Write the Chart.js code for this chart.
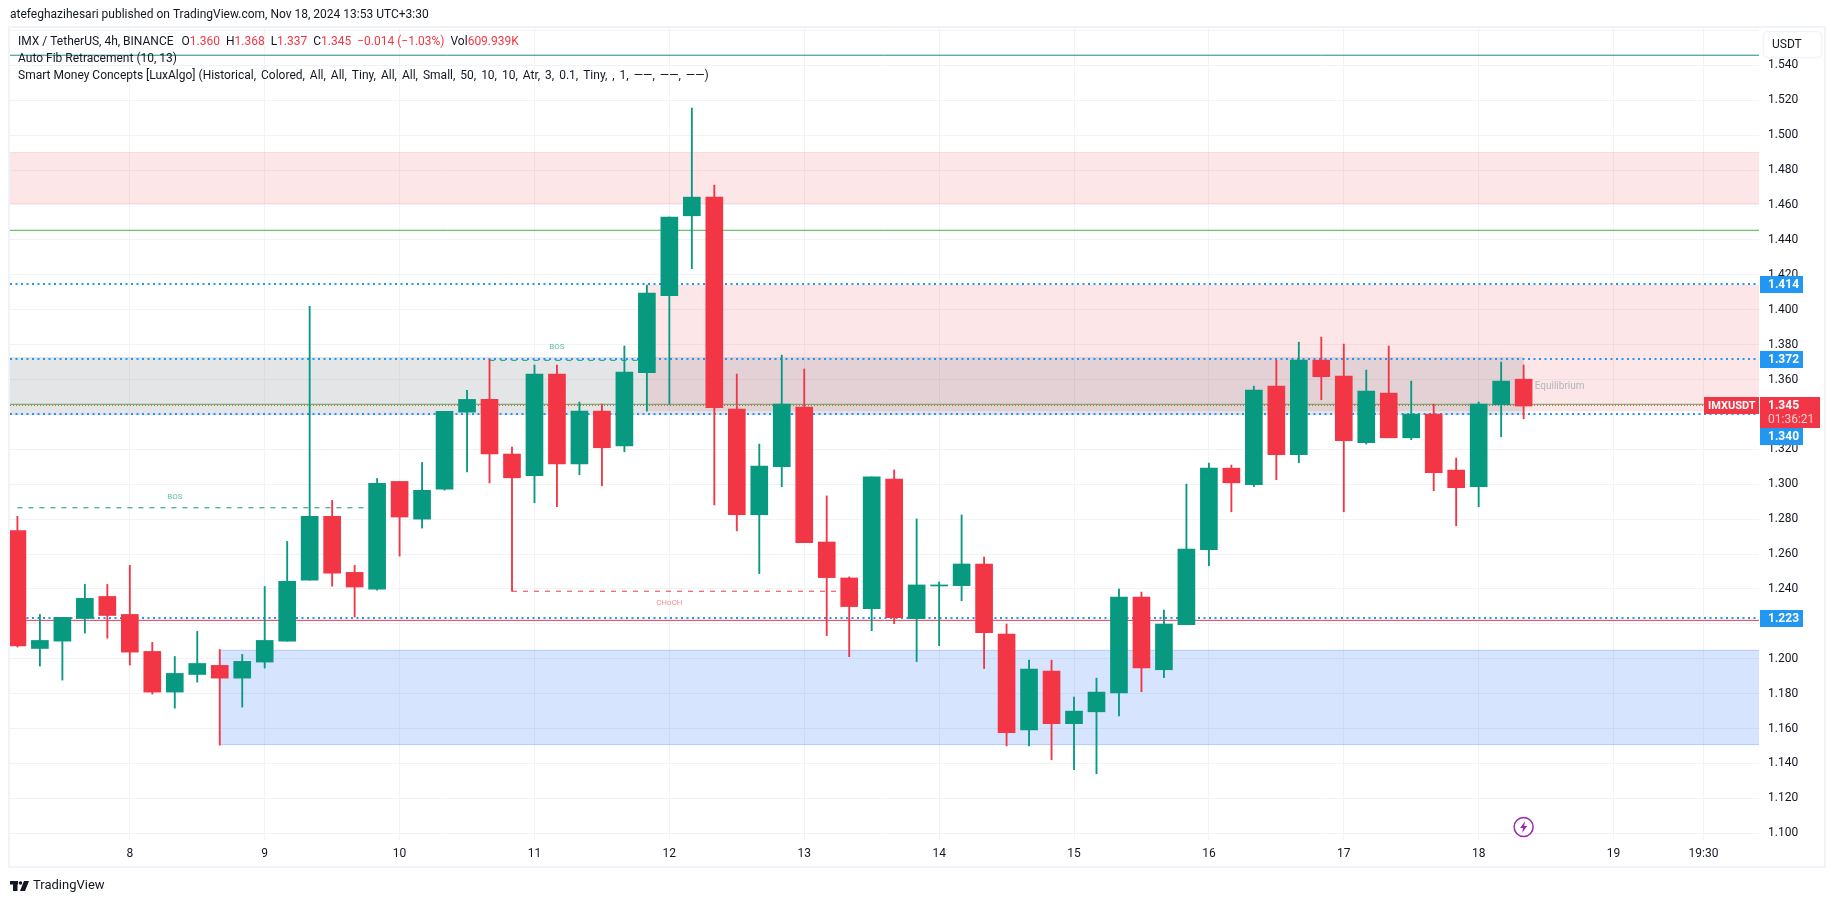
<!DOCTYPE html>
<html>
<head>
<meta charset="utf-8">
<title>IMX / TetherUS</title>
<script src="https://cdn.jsdelivr.net/npm/chart.js@4"></script>
<style>
  html, body { margin: 0; padding: 0; background: #ffffff; }
  canvas { display: block; }
</style>
</head>
<body>
<canvas id="chartCanvas" width="1835" height="903"></canvas>
<script>
// candles, 4h bars
const opens = [1.2735,1.2059,1.2101,1.2231,1.2357,1.2254,1.2042,1.1809,1.1910,1.1962,1.1889,1.1981,1.2101,1.2451,1.2816,1.2495,1.2399,1.3016,1.2800,1.2972,1.3413,1.3486,1.3173,1.3049,1.3631,1.3117,1.3419,1.3220,1.3639,1.4080,1.4538,1.4645,1.3431,1.2825,1.3100,1.3442,1.2669,1.2463,1.2287,1.3030,1.2230,1.2417,1.2419,1.2543,1.2141,1.1593,1.1929,1.1628,1.1696,1.1805,1.2353,1.1937,1.2195,1.2625,1.3092,1.2997,1.3562,1.3169,1.3711,1.3620,1.3238,1.3522,1.3266,1.3402,1.3081,1.2986,1.3455,1.3602];
const highs = [1.2816,1.2254,1.2237,1.2426,1.2426,1.2535,1.2094,1.2013,1.2157,1.2053,1.2025,1.2414,1.2672,1.4019,1.2907,1.2535,1.3033,1.3016,1.3125,1.3417,1.3538,1.3715,1.3213,1.3683,1.3683,1.3471,1.3459,1.3792,1.4141,1.4531,1.5155,1.4714,1.3631,1.3230,1.3740,1.3660,1.2933,1.2469,1.3042,1.3082,1.2801,1.2440,1.2824,1.2583,1.2199,1.1992,1.1992,1.1780,1.1889,1.2399,1.2382,1.2279,1.3001,1.3121,1.3110,1.3562,1.3711,1.3814,1.3843,1.3803,1.3654,1.3792,1.3591,1.3459,1.3150,1.3471,1.3700,1.3683];
const lows = [1.2067,1.1958,1.1878,1.2147,1.2118,1.1964,1.1798,1.1717,1.1866,1.1505,1.1723,1.1947,1.2101,1.2451,1.2416,1.2239,1.2393,1.2588,1.2749,1.2966,1.3070,1.3007,1.2388,1.2894,1.2871,1.3054,1.2991,1.3186,1.3419,1.3459,1.4235,1.2882,1.2733,1.2488,1.2986,1.2665,1.2133,1.2012,1.2161,1.2201,1.1984,1.2075,1.2333,1.1944,1.1501,1.1501,1.1421,1.1364,1.1341,1.1673,1.1811,1.1891,1.2195,1.2533,1.2842,1.2986,1.3026,1.3123,1.3484,1.2842,1.3230,1.3266,1.3255,1.2963,1.2762,1.2871,1.3272,1.3375];
const closes = [1.2073,1.2105,1.2237,1.2346,1.2248,1.2038,1.1809,1.1916,1.1973,1.1889,1.1985,1.2105,1.2443,1.2816,1.2491,1.2411,1.3005,1.2812,1.2965,1.3417,1.3486,1.3173,1.3037,1.3631,1.3117,1.3419,1.3209,1.3643,1.4095,1.4531,1.4645,1.3438,1.2825,1.3104,1.3459,1.2665,1.2465,1.2299,1.3042,1.2236,1.2423,1.2423,1.2543,1.2150,1.1576,1.1941,1.1628,1.1700,1.1809,1.2353,1.1948,1.2199,1.2628,1.3092,1.3008,1.3539,1.3169,1.3711,1.3616,1.3249,1.3534,1.3266,1.3402,1.3066,1.2980,1.3459,1.3591,1.3448];

// axes
const priceTicks = [1.10,1.12,1.14,1.16,1.18,1.20,1.22,1.24,1.26,1.28,1.30,1.32,1.34,1.36,1.38,1.40,1.42,1.44,1.46,1.48,1.50,1.52,1.54,1.56];
const timeTicks = [5,11,17,23,29,35,41,47,53,59,65,71,75];
const timeLabels = ['8','9','10','11','12','13','14','15','16','17','18','19','19:30'];

// supply / demand boxes
const zoneTops = [1.4901,1.4141,1.2052,1.3729];
const zoneBottoms = [1.4607,1.3421,1.1505,1.3399];
const zoneStarts = [-0.33,28,9,-0.33];
const zoneEnds = [77.47,77.47,77.47,67];
const zoneColors = ['rgba(242,54,69,0.125)','rgba(242,54,69,0.125)','rgba(49,121,245,0.2)','rgba(120,123,134,0.2)'];
const zoneEdges = ['rgba(242,54,69,0.12)','rgba(242,54,69,0.04)','rgba(49,121,245,0.2)','rgba(120,123,134,0.02)'];

// horizontal levels
const fibLevels = [1.5458];
const greenLevels = [1.4455,1.3458];
const redLevels = [1.2220];
const blueLevels = [1.4147,1.3718,1.3402,1.2234];
const blueBadges = ['1.414','1.372','1.340','1.223'];
const lastPrice = 1.3452;

// BOS / CHoCH segments
const bosStarts = [0,21];
const bosEnds = [16,28];
const bosLevels = [1.2865,1.3710];
const bosLabelX = [7,24];
const bosLabelY = [1.2929,1.3785];
const chochSegment = [22,37,1.2387];
const chochLabel = [29,1.2322];
const equilibriumLabel = [68.6,1.3559];

const xMin = -0.33;
const xMax = 77.47;
const GREEN = '#089981';
const RED = '#F23645';
const FONT = 'Roboto, "Noto Sans", sans-serif';

const barIndex = opens.map((o, i) => i);
const candleColors = opens.map((o, i) => closes[i] >= o ? GREEN : RED);

function levelLine(v, color, width, dash, order) {
  return {
    type: 'line',
    data: [{ x: xMin, y: v }, { x: xMax, y: v }],
    borderColor: color,
    borderWidth: width,
    borderDash: dash,
    pointRadius: 0,
    order: order
  };
}

function segment(x1, x2, v, color) {
  return {
    type: 'line',
    data: [{ x: x1, y: v }, { x: x2, y: v }],
    borderColor: color,
    borderWidth: 1,
    borderDash: [5, 6],
    pointRadius: 0,
    order: 6
  };
}

// zones sit above the grid, under the candles
const zonesPlugin = {
  id: 'zones',
  beforeDatasetsDraw(chart) {
    const c = chart.ctx, x = chart.scales.x, y = chart.scales.y, a = chart.chartArea;
    c.save();
    c.beginPath();
    c.rect(a.left, a.top, a.width, a.height);
    c.clip();
    zoneTops.forEach((top, i) => {
      const x1 = x.getPixelForValue(zoneStarts[i]);
      const x2 = x.getPixelForValue(zoneEnds[i]);
      const y1 = y.getPixelForValue(top);
      const y2 = y.getPixelForValue(zoneBottoms[i]);
      c.fillStyle = zoneColors[i];
      c.fillRect(x1, y1, x2 - x1, y2 - y1);
      c.fillStyle = zoneEdges[i];
      c.fillRect(x1, Math.round(y1), x2 - x1, 1);
      c.fillRect(x1, Math.round(y2) - 1, x2 - x1, 1);
    });
    c.restore();
  }
};

// text, badges and frame around the chart
function drawRuns(c, x, y, runs) {
  runs.forEach(r => {
    c.fillStyle = r[1];
    c.fillText(r[0], x, y);
    x += c.measureText(r[0]).width + (r[2] || 0);
  });
}

function badge(c, x, y, w, h, color, text, pad) {
  c.fillStyle = color;
  c.fillRect(x, y, w, h);
  c.fillStyle = '#ffffff';
  c.fillText(text, x + pad, y + h / 2 + 0.5);
}

const overlayPlugin = {
  id: 'overlay',
  beforeDraw(chart) {
    const c = chart.ctx;
    c.save();
    c.strokeStyle = '#F0F3FA';
    c.lineWidth = 2;
    c.strokeRect(9, 27, 1816, 840);
    c.restore();
  },
  afterDraw(chart) {
    const c = chart.ctx, x = chart.scales.x, y = chart.scales.y;
    c.save();
    c.textBaseline = 'middle';
    c.textAlign = 'center';

    // annotations in the pane
    c.font = '8px ' + FONT;
    c.fillStyle = 'rgba(8,153,129,0.65)';
    bosLabelX.forEach((b, i) => c.fillText('BOS', x.getPixelForValue(b), y.getPixelForValue(bosLabelY[i])));
    c.fillStyle = 'rgba(242,54,69,0.6)';
    c.fillText('CHoCH', x.getPixelForValue(chochLabel[0]), y.getPixelForValue(chochLabel[1]));
    c.font = '10px ' + FONT;
    c.fillStyle = '#B2B5BE';
    c.fillText('Equilibrium', x.getPixelForValue(equilibriumLabel[0]), y.getPixelForValue(equilibriumLabel[1]));
    c.textAlign = 'left';

    // header + legend
    c.font = '12px ' + FONT;
    c.fillStyle = '#131722';
    c.fillText('atefeghazihesari published on TradingView.com, Nov 18, 2024 13:53 UTC+3:30', 10, 15);
    drawRuns(c, 18, 42, [
      ['IMX / TetherUS, 4h, BINANCE', '#131722', 8],
      ['O', '#131722'], ['1.360', RED, 6],
      ['H', '#131722'], ['1.368', RED, 6],
      ['L', '#131722'], ['1.337', RED, 6],
      ['C', '#131722'], ['1.345', RED, 6],
      ['\u22120.014 (\u22121.03%)', RED, 6],
      ['Vol', '#131722'], ['609.939K', RED]
    ]);
    c.fillStyle = '#131722';
    c.fillText('Auto Fib Retracement (10, 13)', 18, 59);
    const smcName = 'Smart Money Concepts [LuxAlgo] ';
    c.fillText(smcName, 18, 76);
    const smcX = 18 + c.measureText(smcName).width;
    c.wordSpacing = '2px';
    c.fillText('(Historical, Colored, All, All, Tiny, All, All, Small, 50, 10, 10, Atr, 3, 0.1, Tiny, , 1, \u2014\u2014, \u2014\u2014, \u2014\u2014)', smcX, 76);
    c.wordSpacing = '0px';

    // currency box
    c.fillStyle = '#ffffff';
    c.strokeStyle = '#F0F3FA';
    c.lineWidth = 1.5;
    c.beginPath();
    c.roundRect(1763.5, 31.5, 58, 26, 4);
    c.fill();
    c.stroke();
    c.fillStyle = '#131722';
    c.fillText('USDT', 1772, 45);

    // price badges, 1.340 gets pushed under the last price badge
    const py = Math.round(y.getPixelForValue(lastPrice));
    c.font = 'bold 12px ' + FONT;
    blueBadges.forEach((t, i) => {
      const by = Math.round(y.getPixelForValue(blueLevels[i])) - 8;
      const clash = by > py - 25 && by < py + 23;
      badge(c, 1760, clash ? py + 23 : by, 43, 17, '#2196F3', t, 8);
    });
    c.fillStyle = RED;
    c.fillRect(1760, py - 8, 60, 31);
    c.fillStyle = '#ffffff';
    c.fillText('1.345', 1768, py + 1);
    c.font = '12px ' + FONT;
    c.fillStyle = 'rgba(255,255,255,0.75)';
    c.fillText('01:36:21', 1768, py + 15);
    c.font = 'bold 11px ' + FONT;
    badge(c, 1704, py - 8, 55, 17, RED, 'IMXUSDT', 4);

    // lightning mark under the last bar
    const ix = x.getPixelForValue(67), iy = 827;
    c.strokeStyle = '#9C27B0';
    c.lineWidth = 1.5;
    c.beginPath();
    c.arc(ix, iy, 9.5, 0, Math.PI * 2);
    c.stroke();
    c.fillStyle = '#9C27B0';
    c.beginPath();
    c.moveTo(ix + 1.5, iy - 6);
    c.lineTo(ix - 3.5, iy + 1);
    c.lineTo(ix - 0.5, iy + 1);
    c.lineTo(ix - 1.5, iy + 6);
    c.lineTo(ix + 3.5, iy - 1);
    c.lineTo(ix + 0.5, iy - 1);
    c.closePath();
    c.fill();

    // footer logo
    c.fillStyle = '#131722';
    c.fillRect(10, 881, 8, 3.5);
    c.fillRect(13, 881, 4.5, 10);
    c.beginPath();
    c.arc(20.5, 883, 1.8, 0, Math.PI * 2);
    c.fill();
    c.beginPath();
    c.moveTo(24, 881);
    c.lineTo(29, 881);
    c.lineTo(25, 891);
    c.lineTo(20, 891);
    c.closePath();
    c.fill();
    c.font = '13px ' + FONT;
    c.fillText('TradingView', 33, 886);
    c.restore();
  }
};

const datasets = [
  {
    type: 'bar',
    label: 'IMXUSDT',
    data: barIndex.map(i => ({ x: i, y: [opens[i], closes[i]] })),
    backgroundColor: candleColors,
    barThickness: 17,
    minBarLength: 1,
    grouped: false,
    order: 1
  },
  {
    type: 'bar',
    label: 'wicks',
    data: barIndex.map(i => ({ x: i, y: [lows[i], highs[i]] })),
    backgroundColor: candleColors,
    barThickness: 1.2,
    grouped: false,
    order: 2
  },
  levelLine(fibLevels[0], '#1E8E7E', 1, [], 7)
];
greenLevels.forEach(v => datasets.push(levelLine(v, '#4CAF50', 1, [], 7)));
redLevels.forEach(v => datasets.push(levelLine(v, RED, 1, [], 7)));
blueLevels.forEach(v => datasets.push(levelLine(v, '#2196F3', 2, [2, 3.5], 5)));
datasets.push(levelLine(lastPrice, RED, 1, [1, 2], 4));
bosStarts.forEach((s, i) => datasets.push(segment(s, bosEnds[i], bosLevels[i], GREEN)));
datasets.push(segment(chochSegment[0], chochSegment[1], chochSegment[2], RED));

new Chart(document.getElementById('chartCanvas').getContext('2d'), {
  data: { datasets: datasets },
  plugins: [zonesPlugin, overlayPlugin],
  options: {
    responsive: false,
    animation: false,
    events: [],
    layout: { padding: { left: 10, right: 10, top: 28, bottom: 36 } },
    plugins: { legend: { display: false }, tooltip: { enabled: false } },
    scales: {
      x: {
        type: 'linear',
        min: xMin,
        max: xMax,
        offset: false,
        border: { display: false },
        grid: { color: '#F2F3F5', drawTicks: false, offset: false },
        afterBuildTicks: axis => { axis.ticks = timeTicks.map(v => ({ value: v })); },
        afterFit: axis => { axis.height = 27; },
        ticks: {
          autoSkip: false,
          maxRotation: 0,
          padding: 7,
          color: '#131722',
          font: { family: FONT, size: 12 },
          callback: v => timeLabels[timeTicks.indexOf(v)]
        }
      },
      y: {
        position: 'right',
        min: 1.09616,
        max: 1.5614,
        border: { display: false },
        grid: { color: '#F2F3F5', drawTicks: false },
        afterBuildTicks: axis => { axis.ticks = priceTicks.map(v => ({ value: v })); },
        afterFit: axis => { axis.width = 66; },
        ticks: {
          autoSkip: false,
          padding: 9,
          color: '#131722',
          font: { family: FONT, size: 12 },
          callback: v => v > 1.55 ? '' : v.toFixed(3)
        }
      }
    }
  }
});
</script>
</body>
</html>
